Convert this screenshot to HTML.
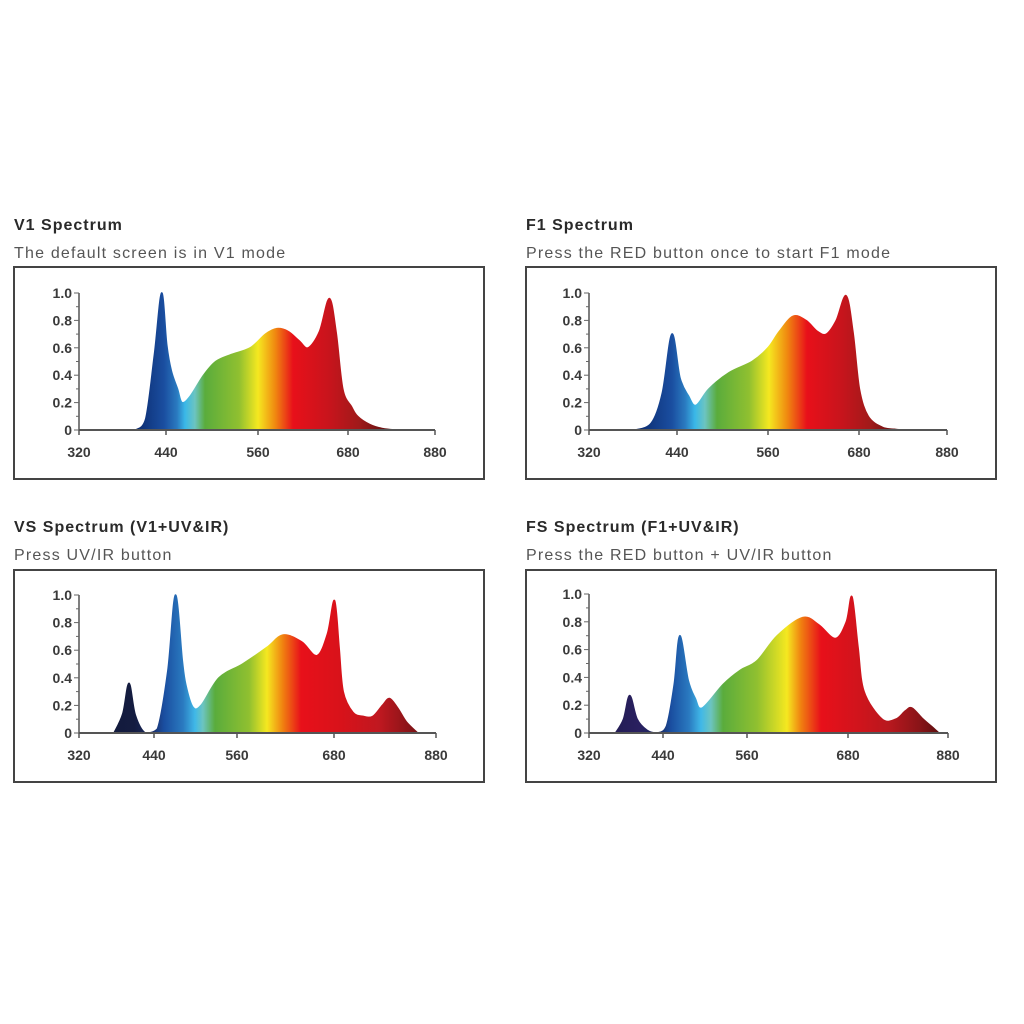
<!DOCTYPE html>
<html><head><meta charset="utf-8">
<style>
html,body{margin:0;padding:0;background:#fff;}
body{width:1024px;height:1024px;position:relative;overflow:hidden;font-family:"Liberation Sans",sans-serif;}
.t{position:absolute;font-size:16px;color:#2a2a2a;font-weight:bold;letter-spacing:1px;white-space:nowrap;}
.s{position:absolute;font-size:16px;color:#555;letter-spacing:1.2px;white-space:nowrap;}
svg{position:absolute;left:0;top:0;}
</style></head>
<body>
<div class="t" style="left:14px;top:217px">V1 Spectrum</div>
<div class="s" style="left:14px;top:245px">The default screen is in V1 mode</div>
<div class="t" style="left:526px;top:217px">F1 Spectrum</div>
<div class="s" style="left:526px;top:245px">Press the RED button once to start F1 mode</div>
<div class="t" style="left:14px;top:519px">VS Spectrum (V1+UV&amp;IR)</div>
<div class="s" style="left:14px;top:547px">Press UV/IR button</div>
<div class="t" style="left:526px;top:519px">FS Spectrum (F1+UV&amp;IR)</div>
<div class="s" style="left:526px;top:547px">Press the RED button + UV/IR button</div>
<svg id="chart" width="1024" height="1024"></svg>
<script>
const xTickLabels = [320, 440, 560, 680, 880];
const yTickLabels = ["0", "0.2", "0.4", "0.6", "0.8", "1.0"];
const yTickValues = [0, 0.2, 0.4, 0.6, 0.8, 1.0];

const v1Wl  = [398, 412, 424, 434, 441, 447, 455, 461, 472, 489, 505, 525, 550, 570, 585, 600, 615, 627, 642, 655, 664, 673, 688, 702, 730, 760, 790];
const v1Val = [0, 0.08, 0.55, 1.0, 0.62, 0.43, 0.3, 0.2, 0.25, 0.4, 0.5, 0.55, 0.6, 0.7, 0.74, 0.72, 0.65, 0.6, 0.72, 0.96, 0.72, 0.3, 0.17, 0.1, 0.04, 0.01, 0];

const f1Wl  = [383, 405, 420, 433, 444, 455, 465, 482, 509, 539, 560, 575, 593, 610, 625, 637, 650, 663, 672, 681, 701, 733, 760, 777];
const f1Val = [0, 0.05, 0.27, 0.7, 0.38, 0.25, 0.18, 0.3, 0.42, 0.5, 0.6, 0.72, 0.83, 0.8, 0.72, 0.7, 0.8, 0.98, 0.72, 0.3, 0.1, 0.02, 0.005, 0];

const vsWl  = [376, 390, 400, 410, 426, 445, 460, 471, 481, 486, 496, 508, 534, 567, 597, 617, 640, 659, 672, 681, 690, 698, 717, 737, 756, 775, 789, 805, 822, 844];
const vsVal = [0, 0.14, 0.36, 0.13, 0, 0.03, 0.45, 1.0, 0.52, 0.35, 0.19, 0.2, 0.4, 0.5, 0.62, 0.71, 0.66, 0.56, 0.72, 0.96, 0.62, 0.3, 0.15, 0.12, 0.12, 0.2, 0.25, 0.18, 0.08, 0];

const fsWl  = [363, 376, 386, 398, 414, 430, 445, 456, 464, 476, 486, 496, 526, 550, 572, 596, 626, 645, 665, 678, 688, 700, 712, 748, 776, 795, 808, 830, 846, 862];
const fsVal = [0, 0.1, 0.27, 0.1, 0.02, 0, 0.05, 0.35, 0.7, 0.38, 0.25, 0.18, 0.35, 0.45, 0.52, 0.7, 0.83, 0.78, 0.68, 0.8, 0.98, 0.62, 0.3, 0.1, 0.1, 0.16, 0.18, 0.1, 0.05, 0];

const panels = [
  {id:"v1", box:[14,267,470,212], tx:[79,166,258,348,435], y0:430, y1:293, wl:v1Wl, val:v1Val,
   stops:[[0,"#08204e"],[58,"#0c2c70"],[85,"#1a4ea0"],[98,"#2a7ac0"],[106,"#3ab8e8"],[116,"#6cc4c0"],[126,"#5aac3c"],[160,"#90c030"],[179,"#f5e820"],[196,"#f08a10"],[214,"#e8101a"],[250,"#c8141c"],[280,"#a01a1a"],[320,"#4a0c0c"],[356,"#2a0808"]]},
  {id:"f1", box:[526,267,470,212], tx:[589,677,768,859,947], y0:430, y1:293, wl:f1Wl, val:f1Val,
   stops:[[0,"#08204e"],[50,"#0c2c70"],[83,"#1a4ea0"],[96,"#2a7ac0"],[106,"#3ab8e8"],[116,"#6cc4c0"],[128,"#5aac3c"],[160,"#90c030"],[180,"#f5e820"],[198,"#f08a10"],[218,"#e8101a"],[252,"#c8141c"],[282,"#a01a1a"],[318,"#4a0c0c"],[358,"#2a0808"]]},
  {id:"vs", box:[14,570,470,212], tx:[79,154,237,334,436], y0:733, y1:595, wl:vsWl, val:vsVal,
   stops:[[0,"#101838"],[55,"#141c40"],[72,"#1a2a60"],[85,"#1a4ea0"],[104,"#2a7ac0"],[116,"#40b8e8"],[124,"#6cc4c0"],[136,"#5aac3c"],[170,"#90c030"],[188,"#f5e820"],[204,"#f08010"],[222,"#e8101a"],[262,"#d8121a"],[300,"#c01820"],[330,"#8a1418"],[357,"#4a0c0c"]]},
  {id:"fs", box:[526,570,470,212], tx:[589,663,747,848,948], y0:733, y1:594, wl:fsWl, val:fsVal,
   stops:[[0,"#1c1848"],[50,"#2a2060"],[70,"#1a2a60"],[82,"#1a4ea0"],[100,"#2a7ac0"],[112,"#40b8e8"],[122,"#6cc4c0"],[134,"#5aac3c"],[168,"#90c030"],[198,"#f5e820"],[212,"#f08010"],[232,"#e8101a"],[270,"#d0141c"],[300,"#b8181e"],[330,"#8a1418"],[359,"#4a0c0c"]]}
];

const NS = "http://www.w3.org/2000/svg";
const svg = document.getElementById("chart");
const defs = document.createElementNS(NS, "defs");
svg.appendChild(defs);
function mk(tag, attrs, parent){
  const e = document.createElementNS(NS, tag);
  for (const k in attrs) e.setAttribute(k, attrs[k]);
  (parent || svg).appendChild(e);
  return e;
}
function xScale(p, w){
  const t = xTickLabels, px = p.tx;
  for (let i = 0; i < t.length - 1; i++){
    if (w <= t[i+1] || i === t.length - 2){
      return px[i] + (w - t[i]) / (t[i+1] - t[i]) * (px[i+1] - px[i]);
    }
  }
}
function yScale(p, v){ return p.y0 + v * (p.y1 - p.y0); }

panels.forEach(p => {
  const g = mk("g", {});
  
  
  const [bx, by, bw, bh] = p.box;
  const box = mk("rect", {x:bx, y:by, width:bw, height:bh, fill:"none", stroke:"#444", "stroke-width":2}, g);
  
  

  const gid = "grad-" + p.id;
  const lg = mk("linearGradient", {id:gid, gradientUnits:"userSpaceOnUse", x1:p.tx[0], y1:0, x2:p.tx[p.tx.length-1], y2:0}, defs);
  const span = p.tx[p.tx.length-1] - p.tx[0];
  p.stops.forEach(s => mk("stop", {offset:(s[0]/span).toFixed(4), "stop-color":s[1]}, lg));

  const pts = p.wl.map((w, i) => [xScale(p, w), yScale(p, p.val[i])]);
  let d = "M" + pts[0][0].toFixed(1) + "," + p.y0 + " L" + pts[0][0].toFixed(1) + "," + pts[0][1].toFixed(1);
  for (let i = 0; i < pts.length - 1; i++){
    const p0 = pts[Math.max(0, i-1)], p1 = pts[i], p2 = pts[i+1], p3 = pts[Math.min(pts.length-1, i+2)];
    const c1x = p1[0] + (p2[0]-p0[0])/6, c1y = Math.min(p.y0, p1[1] + (p2[1]-p0[1])/6);
    const c2x = p2[0] - (p3[0]-p1[0])/6, c2y = Math.min(p.y0, p2[1] - (p3[1]-p1[1])/6);
    d += " C" + c1x.toFixed(1) + "," + c1y.toFixed(1) + " " + c2x.toFixed(1) + "," + c2y.toFixed(1) + " " + p2[0].toFixed(1) + "," + p2[1].toFixed(1);
  }
  d += " L" + pts[pts.length-1][0].toFixed(1) + "," + p.y0 + " Z";
  const area = mk("path", {d:d, fill:"url(#" + gid + ")", stroke:"url(#" + gid + ")", "stroke-width":1.5, "stroke-linejoin":"round"}, g);
  
  

  const x0 = p.tx[0], xe = p.tx[p.tx.length-1];
  const xa = mk("line", {x1:x0, y1:p.y0, x2:xe, y2:p.y0, stroke:"#555", "stroke-width":2}, g);
  
  
  const ya = mk("line", {x1:x0, y1:p.y0, x2:x0, y2:yScale(p, 1.0), stroke:"#555", "stroke-width":1.5}, g);
  
  
  for (let k = 0; k <= 10; k++){
    const yy = yScale(p, k/10);
    mk("line", {x1:x0 - (k%2===0?5:3), y1:yy, x2:x0, y2:yy, stroke:"#666", "stroke-width":1}, g);
  }
  yTickValues.forEach((v, i) => {
    const t = mk("text", {x:x0 - 7, y:yScale(p, v) + 5, "text-anchor":"end", "font-size":14, "font-weight":"bold", fill:"#3a3a3a", "font-family":"Liberation Sans, sans-serif"}, g);
    t.textContent = yTickLabels[i];
    
    
  });
  xTickLabels.forEach(w => {
    const xx = xScale(p, w);
    mk("line", {x1:xx, y1:p.y0, x2:xx, y2:p.y0 + 5, stroke:"#555", "stroke-width":1.5}, g);
    const t = mk("text", {x:xx, y:p.y0 + 27, "text-anchor":"middle", "font-size":14, "font-weight":"bold", fill:"#3a3a3a", "font-family":"Liberation Sans, sans-serif"}, g);
    t.textContent = w;
    
    
  });
});
</script>
</body></html>
